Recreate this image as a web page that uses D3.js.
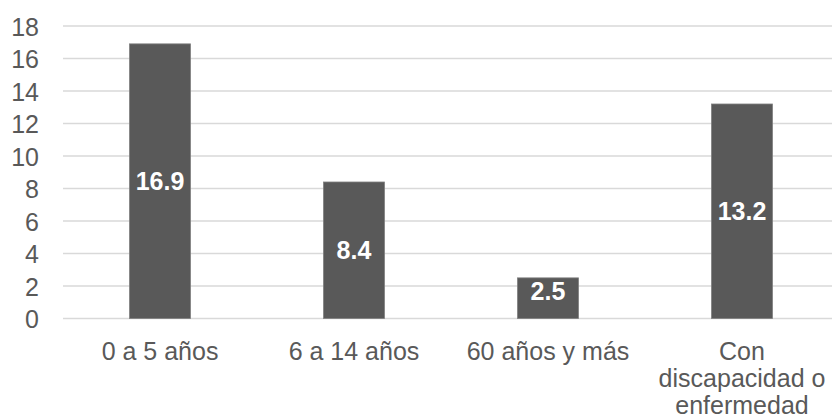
<!DOCTYPE html>
<html>
<head>
<meta charset="utf-8">
<script src="https://cdn.jsdelivr.net/npm/d3@7/dist/d3.min.js"></script>
<style>
  html, body { margin: 0; padding: 0; background: #ffffff; }
  svg { display: block; }
  text { font-family: "Liberation Sans", Arial, sans-serif; }
</style>
</head>
<body>
<svg id="chart" width="832" height="420"></svg>
<script>
// Población por grupo
const categories = ["0 a 5 años", "6 a 14 años", "60 años y más", ["Con", "discapacidad o", "enfermedad"]];
const values = [16.9, 8.4, 2.5, 13.2];
const yTicks = [0, 2, 4, 6, 8, 10, 12, 14, 16, 18];

const svg = d3.select("#chart");
const plotLeft = 63, plotRight = 839, plotTop = 26, plotBottom = 318.5;
const fontSize = 25;

const x = d3.scaleBand()
  .domain(d3.range(values.length))
  .range([plotLeft, plotRight])
  .paddingInner(0.6856)
  .paddingOuter(0.3428);

const y = d3.scaleLinear().domain([0, 18]).range([plotBottom, plotTop]);

// gridlines
svg.append("g")
  .selectAll("line")
  .data(yTicks)
  .join("line")
  .attr("x1", plotLeft)
  .attr("x2", plotRight)
  .attr("y1", d => y(d))
  .attr("y2", d => y(d))
  .attr("stroke", "#d9d9d9")
  .attr("stroke-width", 1.3);

// y axis labels
const yAxis = d3.axisLeft(y).tickValues(yTicks).tickSize(0).tickPadding(0);
const gy = svg.append("g").attr("transform", "translate(39,0)").call(yAxis);
gy.select(".domain").remove();
gy.selectAll("text")
  .attr("fill", "#595959")
  .attr("font-size", fontSize + "px")
  .attr("font-family", "'Liberation Sans', Arial, sans-serif")
  .attr("dy", "0.36em");

// bars
svg.append("g")
  .selectAll("rect")
  .data(values)
  .join("rect")
  .attr("x", (d, i) => x(i))
  .attr("width", x.bandwidth())
  .attr("y", d => y(d))
  .attr("height", d => y(0) - y(d))
  .attr("fill", "#595959")
  .attr("stroke", "#7f7f7f")
  .attr("stroke-width", 0.8);

// value labels
svg.append("g")
  .selectAll("text")
  .data(values)
  .join("text")
  .attr("x", (d, i) => x(i) + x.bandwidth() / 2)
  .attr("y", d => d < 4 ? y(d) + 22.5 : (y(d) + y(0)) / 2 + 9)
  .attr("text-anchor", "middle")
  .attr("fill", "#ffffff")
  .attr("font-weight", "bold")
  .attr("font-size", fontSize + "px")
  .text(d => d.toFixed(1));

// category labels
const xAxis = d3.axisBottom(x).tickSize(0).tickPadding(0).tickFormat(() => "");
const gx = svg.append("g").attr("transform", `translate(0,${plotBottom})`).call(xAxis);
gx.select(".domain").remove();
gx.selectAll(".tick").each(function(d, i) {
  const lines = Array.isArray(categories[i]) ? categories[i] : [categories[i]];
  const t = d3.select(this).select("text")
    .attr("fill", "#595959")
    .attr("font-size", fontSize + "px")
    .attr("font-family", "'Liberation Sans', Arial, sans-serif")
    .attr("text-anchor", "middle")
    .attr("y", 0)
    .attr("dy", null);
  t.selectAll("tspan")
    .data(lines)
    .join("tspan")
    .attr("x", 0)
    .attr("y", (l, k) => 41 + k * 27)
    .text(l => l);
});
</script>
</body>
</html>
